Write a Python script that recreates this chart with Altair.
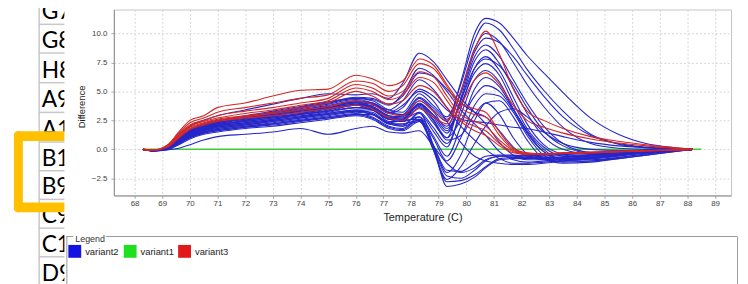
import altair as alt
import pandas as pd

# ---------------- data ----------------
temps = [68.3, 68.7, 69.2, 69.6, 70.0, 70.5, 71.0, 72.0, 73.0, 74.0, 75.0, 76.0,
         76.6, 77.2, 77.7, 78.3, 78.8, 79.3, 79.8, 80.3, 80.7, 81.2, 81.7, 82.2,
         82.8, 83.5, 84.5, 85.5, 86.5, 87.5, 88.2]

# variant2 (blue)
b01 = [0, -0.1, 0.3, 1.2, 2.0, 2.5, 2.9, 3.4, 3.9, 4.4, 4.8, 4.7,
       4.8, 4.4, 5.7, 8.3, 7.6, 6.0, 4.4, 3.2, 2.2, 0.6, -0.5, -0.9,
       -0.9, -0.8, -0.6, -0.4, -0.25, -0.1, 0]
b02 = [0, -0.1, 0.2, 0.9, 1.6, 2.0, 2.3, 2.7, 3.1, 3.4, 3.8, 4.2,
       4.0, 3.2, 3.0, 4.4, 3.4, 2.4, 5.8, 10.0, 11.3, 10.9, 9.6, 8.1,
       6.6, 4.9, 2.7, 1.3, 0.5, 0.15, 0]
b03 = [0, -0.1, 0.25, 1.0, 1.7, 2.1, 2.4, 2.8, 3.2, 3.6, 4.0, 4.4,
       4.2, 3.4, 3.2, 4.8, 3.8, 2.8, 5.6, 9.4, 10.9, 10.3, 8.7, 6.9,
       5.1, 3.3, 1.3, 0.45, 0.15, 0.05, 0]
b04 = [0, -0.1, 0.15, 0.8, 1.4, 1.8, 2.1, 2.5, 2.8, 3.1, 3.5, 3.9,
       3.7, 2.9, 2.7, 4.0, 3.0, 2.0, 5.0, 8.7, 10.0, 9.3, 7.5, 5.6,
       3.7, 1.9, 0.5, 0.1, 0.0, 0.0, 0]
b05 = [0, -0.12, 0.1, 0.7, 1.3, 1.7, 2.0, 2.3, 2.6, 2.9, 3.2, 3.6,
       3.4, 2.6, 2.4, 3.6, 2.3, 1.0, 4.4, 8.0, 9.0, 8.0, 6.0, 4.0,
       2.0, 0.5, -0.25, -0.25, -0.1, 0, 0]
b06 = [0, -0.1, 0.2, 0.9, 1.5, 1.9, 2.2, 2.6, 2.9, 3.3, 3.6, 4.0,
       3.6, 2.8, 2.6, 3.9, 2.8, 1.4, 4.2, 7.6, 8.6, 7.4, 5.3, 3.1,
       1.1, 0.0, -0.4, -0.3, -0.2, -0.1, 0]
b07 = [0, -0.12, 0.05, 0.6, 1.2, 1.6, 1.9, 2.2, 2.5, 2.8, 3.1, 3.4,
       3.1, 2.3, 2.1, 3.1, 1.6, 0.2, 3.5, 7.0, 8.0, 6.8, 4.5, 2.2,
       0.4, -0.4, -0.6, -0.45, -0.25, -0.1, 0]
b08 = [0, -0.1, 0.2, 0.8, 1.5, 1.9, 2.3, 2.7, 3.0, 3.4, 3.7, 4.1,
       3.7, 2.9, 2.8, 4.2, 3.3, 1.8, 3.9, 6.6, 7.4, 6.4, 4.0, 1.8,
       0.2, -0.6, -0.7, -0.5, -0.3, -0.1, 0]
b09 = [0, -0.12, 0.1, 0.6, 1.2, 1.6, 1.8, 2.1, 2.4, 2.7, 3.0, 3.3,
       3.0, 2.2, 2.0, 3.2, 1.9, 0.5, 3.0, 6.0, 6.8, 5.8, 3.5, 1.4,
       -0.2, -0.8, -0.8, -0.6, -0.3, -0.1, 0]
b10 = [0, -0.12, 0.05, 0.5, 1.1, 1.5, 1.7, 2.0, 2.2, 2.5, 2.8, 3.1,
       2.8, 2.0, 1.8, 2.8, 1.2, -0.6, 2.0, 5.2, 6.2, 5.4, 3.5, 1.6,
       0.0, -0.9, -0.9, -0.7, -0.4, -0.15, 0]
b11 = [0, -0.1, 0.15, 0.8, 1.4, 1.8, 2.1, 2.4, 2.7, 3.0, 3.4, 3.8,
       3.4, 2.6, 2.5, 3.8, 2.6, 1.0, 2.5, 4.6, 5.5, 5.0, 3.4, 1.5,
       -0.2, -1.0, -1.0, -0.7, -0.4, -0.15, 0]
b12 = [0, -0.12, 0.0, 0.5, 1.0, 1.4, 1.6, 1.9, 2.1, 2.4, 2.7, 3.0,
       2.7, 1.9, 1.7, 2.6, 1.0, -1.0, 1.0, 3.8, 4.8, 4.6, 3.2, 1.2,
       -0.5, -1.1, -1.0, -0.8, -0.5, -0.2, 0]
b13 = [0, -0.15, 0.0, 0.4, 0.9, 1.3, 1.5, 1.8, 2.0, 2.3, 2.6, 2.9,
       2.6, 1.8, 1.6, 2.4, 0.4, -2.0, -0.5, 2.5, 4.0, 4.2, 2.8, 0.8,
       -0.8, -1.2, -1.1, -0.8, -0.5, -0.2, 0]
b14 = [0, -0.1, 0.25, 1.0, 1.7, 2.2, 2.5, 2.9, 3.3, 3.7, 4.1, 4.4,
       4.3, 3.8, 4.8, 7.0, 6.4, 5.0, 3.4, 2.2, 1.2, -0.2, -0.9, -1.1,
       -1.0, -0.9, -0.7, -0.5, -0.3, -0.1, 0]
b15 = [0, -0.1, 0.2, 0.9, 1.5, 2.0, 2.3, 2.7, 3.0, 3.4, 3.7, 4.1,
       4.0, 3.4, 4.2, 6.0, 5.2, 3.6, 2.0, 0.8, 0.0, -0.8, -1.2, -1.2,
       -1.1, -1.0, -0.8, -0.5, -0.3, -0.1, 0]
b16 = [0, -0.12, 0.1, 0.7, 1.3, 1.7, 2.0, 2.4, 2.7, 3.0, 3.3, 3.8,
       3.8, 3.2, 3.8, 5.0, 4.2, 2.4, 0.6, -0.6, -1.0, -1.2, -1.3, -1.3,
       -1.2, -1.0, -0.8, -0.55, -0.3, -0.1, 0]
b17 = [0, -0.1, 0.15, 0.8, 1.4, 1.8, 2.1, 2.5, 2.9, 3.2, 3.5, 3.8,
       3.6, 2.6, 2.6, 3.2, 0.4, -3.2, -3.0, -2.4, -1.6, -0.9, -0.8, -0.8,
       -0.75, -0.7, -0.55, -0.4, -0.25, -0.1, 0]
b18 = [0, -0.12, 0.1, 0.6, 1.2, 1.6, 1.9, 2.2, 2.5, 2.8, 3.1, 3.4,
       3.4, 2.4, 2.4, 2.8, 0.0, -2.8, -2.7, -2.2, -1.5, -0.8, -0.7, -0.7,
       -0.7, -0.65, -0.5, -0.35, -0.2, -0.1, 0]
b19 = [0, -0.12, 0.05, 0.6, 1.1, 1.5, 1.8, 2.1, 2.4, 2.7, 3.0, 3.3,
       3.2, 2.3, 2.5, 2.6, 0.2, -2.3, -2.5, -1.8, -1.0, -0.6, -0.6, -0.65,
       -0.6, -0.55, -0.45, -0.3, -0.2, -0.1, 0]
b20 = [0, -0.12, 0.05, 0.5, 1.0, 1.4, 1.6, 1.9, 2.2, 2.5, 2.7, 3.0,
       3.0, 2.2, 2.2, 2.5, 0.4, -1.8, -1.9, -1.2, -0.6, -0.5, -0.5, -0.55,
       -0.5, -0.45, -0.35, -0.25, -0.15, -0.05, 0]
b21 = [0, -0.15, -0.05, 0.1, 0.4, 0.8, 1.1, 1.3, 1.5, 1.8, 1.3, 1.8,
       2.0, 1.5, 1.4, 1.6, 0.3, -1.2, -2.0, -1.6, -0.9, -0.6, -0.55, -0.5,
       -0.45, -0.4, -0.3, -0.2, -0.1, -0.05, 0]
b22 = [0, -0.12, 0.05, 0.5, 1.1, 1.5, 1.7, 2.0, 2.3, 2.6, 2.9, 3.2,
       3.0, 2.2, 2.0, 2.4, 0.0, -2.6, -1.5, 0.5, 2.0, 3.2, 3.5, 2.8,
       1.5, 0.5, 0.0, -0.1, -0.1, 0, 0]
b23 = [0, -0.1, 0.2, 0.8, 1.5, 1.9, 2.2, 2.6, 2.9, 3.3, 3.6, 4.0,
       3.9, 3.1, 3.6, 5.2, 4.6, 3.4, 2.6, 2.4, 2.3, 2.1, 1.9, 1.8,
       1.5, 1.1, 0.6, 0.3, 0.15, 0.05, 0]
b24 = [0, -0.1, 0.1, 0.7, 1.3, 1.7, 2.0, 2.3, 2.6, 3.0, 3.3, 3.6,
       3.5, 2.7, 2.9, 3.7, 2.5, 0.8, 1.2, 3.0, 4.0, 3.0, 1.0, -0.4,
       -0.9, -0.9, -0.7, -0.5, -0.3, -0.1, 0]
b25 = [0, -0.1, 0.2, 0.9, 1.6, 2.0, 2.3, 2.7, 3.1, 3.5, 3.9, 4.3,
       4.0, 3.2, 3.0, 4.5, 3.6, 2.6, 4.8, 8.4, 9.6, 9.2, 8.0, 6.4,
       4.6, 2.8, 1.2, 0.5, 0.2, 0.05, 0]
b26 = [0, -0.1, 0.15, 0.8, 1.4, 1.8, 2.1, 2.5, 2.8, 3.1, 3.5, 3.8,
       3.5, 2.7, 2.6, 3.9, 3.0, 1.6, 4.2, 7.0, 7.8, 7.2, 5.6, 3.6,
       1.6, 0.3, -0.3, -0.3, -0.2, -0.1, 0]
b27 = [0, -0.1, 0.2, 0.9, 1.6, 2.1, 2.4, 2.8, 3.2, 3.6, 4.0, 4.5,
       4.4, 3.9, 4.6, 6.6, 6.3, 5.2, 4.0, 3.2, 2.8, 1.6, 0.2, -0.6,
       -0.8, -0.7, -0.5, -0.35, -0.2, -0.1, 0]

# variant3 (red)
r01 = [0, -0.05, 0.4, 1.5, 2.5, 2.9, 3.6, 4.0, 4.6, 5.1, 5.2, 6.4,
       6.1, 5.5, 5.9, 7.8, 7.3, 5.6, 4.0, 3.5, 3.2, 1.5, 0.1, -0.3,
       -0.4, -0.35, -0.3, -0.2, -0.15, -0.05, 0]
r02 = [0, -0.05, 0.35, 1.4, 2.3, 2.7, 3.2, 3.6, 4.0, 4.4, 4.7, 5.9,
       5.7, 5.0, 5.5, 7.4, 7.0, 5.4, 3.6, 3.0, 2.8, 1.2, 0.0, -0.35,
       -0.4, -0.35, -0.3, -0.2, -0.1, -0.05, 0]
r03 = [0, -0.05, 0.3, 1.3, 2.1, 2.5, 2.9, 3.3, 3.6, 4.0, 4.4, 5.6,
       5.3, 4.6, 5.0, 6.7, 6.3, 4.6, 3.0, 2.4, 2.0, 0.8, -0.1, -0.4,
       -0.4, -0.3, -0.25, -0.2, -0.1, -0.05, 0]
r04 = [0, -0.05, 0.3, 1.2, 2.0, 2.4, 2.7, 3.1, 3.4, 3.8, 4.2, 5.3,
       5.0, 4.3, 4.7, 6.2, 5.8, 4.2, 2.6, 2.0, 1.6, 0.5, -0.2, -0.4,
       -0.4, -0.3, -0.25, -0.15, -0.1, -0.05, 0]
r05 = [0, -0.05, 0.25, 1.1, 1.9, 2.3, 2.6, 2.9, 3.2, 3.6, 4.0, 5.0,
       4.6, 3.9, 4.2, 5.5, 5.0, 3.6, 2.4, 1.6, 1.2, 0.3, -0.3, -0.45,
       -0.4, -0.35, -0.3, -0.2, -0.1, -0.05, 0]
r06 = [0, -0.05, 0.25, 1.0, 1.8, 2.2, 2.5, 2.8, 3.1, 3.4, 3.7, 4.2,
       3.9, 3.1, 2.9, 4.2, 3.3, 2.5, 5.0, 8.6, 10.2, 8.2, 5.2, 3.3,
       2.5, 1.8, 1.1, 0.7, 0.4, 0.15, 0]
r07 = [0, -0.05, 0.2, 1.0, 1.7, 2.1, 2.4, 2.7, 2.9, 3.2, 3.5, 3.8,
       3.5, 2.7, 2.5, 3.5, 2.8, 2.2, 3.8, 6.0, 6.6, 5.6, 3.8, 2.5,
       1.9, 1.4, 0.9, 0.55, 0.3, 0.1, 0]

# variant1 (green)
green_temps = [68.3, 88.5]
green_vals = [0.0, 0.0]

blue_curves = [b01, b02, b03, b04, b05, b06, b07, b08, b09, b10, b11, b12, b13, b14,
               b15, b16, b17, b18, b19, b20, b21, b22, b23, b24, b25, b26, b27]
red_curves = [r01, r02, r03, r04, r05, r06, r07]

x_ticks = list(range(68, 90))
y_ticks = [-2.5, 0.0, 2.5, 5.0, 7.5, 10.0]
legend_names = ["variant2", "variant1", "variant3"]
cell_labels = ["G7", "G8", "H8", "A9", "A1", "B1", "B9", "C9", "C1", "D9"]

# ---------------- styling ----------------
BLUE = "#2626c8"
RED = "#d42626"
GREEN = "#3fcc3f"
FONT = "Liberation Sans"

rows = []
for i, c in enumerate(blue_curves):
    for t, v in zip(temps, c):
        rows.append({"temp": t, "diff": v, "curve": f"b{i}", "variant": "variant2"})
df_blue = pd.DataFrame(rows)
rows = []
for i, c in enumerate(red_curves):
    for t, v in zip(temps, c):
        rows.append({"temp": t, "diff": v, "curve": f"r{i}", "variant": "variant3"})
df_red = pd.DataFrame(rows)
df_green = pd.DataFrame({"temp": green_temps, "diff": green_vals,
                         "curve": ["g0", "g0"], "variant": ["variant1", "variant1"]})

color_scale = alt.Scale(domain=legend_names, range=[BLUE, GREEN, RED])

x_enc = alt.X("temp:Q",
              scale=alt.Scale(domain=[67.25, 89.58], nice=False, zero=False),
              axis=alt.Axis(values=x_ticks, format="d", labelFontSize=8, labelColor="#444",
                            labelFont=FONT, tickSize=3, tickColor="#aaa", domainColor="#8a8a8a",
                            gridColor="#d6d6d6", gridDash=[2, 2], labelPadding=1,
                            title="Temperature (C)", titleFontSize=11, titleFontWeight="normal",
                            titleColor="#222", titleFont=FONT, titleY=22, titleBaseline="middle"))
y_enc = alt.Y("diff:Q",
              scale=alt.Scale(domain=[-3.98, 12.07], nice=False, zero=False),
              axis=alt.Axis(values=y_ticks, format=".1f", labelFontSize=8, labelColor="#444",
                            labelFont=FONT, tickSize=3, tickColor="#aaa", domainColor="#8a8a8a",
                            gridColor="#d6d6d6", gridDash=[2, 2], labelPadding=4,
                            title="Difference", titleFontSize=9.5, titleFontWeight="normal",
                            titleColor="#222", titleFont=FONT, titleX=-33, titleY=98,
                            titleAngle=270, titleAlign="center", titleBaseline="middle"))

def series(df, width):
    return alt.Chart(df).mark_line(interpolate="monotone", strokeWidth=width).encode(
        x=x_enc, y=y_enc,
        color=alt.Color("variant:N", scale=color_scale, legend=None),
        detail="curve:N")

dummy = pd.DataFrame({"k": [0]})

def hx(px):
    return px - 115

def hy(py):
    return py - 8

def text(s, x, y, size, color="#000", font=FONT, align="left", baseline="alphabetic"):
    return alt.Chart(dummy).mark_text(text=s, align=align, baseline=baseline, fontSize=size,
                                      font=font, color=color).encode(
        x=alt.value(hx(x)), y=alt.value(hy(y)))

def hrule(x1, x2, y, color, w=1):
    return alt.Chart(dummy).mark_rule(color=color, strokeWidth=w).encode(
        x=alt.value(hx(x1)), x2=alt.value(hx(x2)), y=alt.value(hy(y)))

def vrule(x, y1, y2, color, w=1):
    return alt.Chart(dummy).mark_rule(color=color, strokeWidth=w).encode(
        x=alt.value(hx(x)), y=alt.value(hy(y1)), y2=alt.value(hy(y2)))

def box(x1, y1, x2, y2, color, r=0):
    return alt.Chart(dummy).mark_rect(color=color, cornerRadius=r).encode(
        x=alt.value(hx(x1)), x2=alt.value(hx(x2)), y=alt.value(hy(y1)), y2=alt.value(hy(y2)))

layers = []
# spreadsheet fragment on the left
row_lines = [23, 52, 82, 112, 142, 171, 200, 229, 258]
baselines = [18, 47, 77, 107, 137, 166, 195, 224, 253, 282]
for lab, b in zip(cell_labels, baselines):
    layers.append(text(lab, 42, b, 23, font="Lato"))
layers.append(vrule(39.5, 0, 290, "#c8c8c8", 1.5))
for yl in row_lines:
    layers.append(hrule(39, 66, yl, "#c8c8c8", 1.5))
# orange bracket
ORANGE = "#ffc000"
layers.append(box(14, 131, 23, 213, ORANGE, 4))
layers.append(box(14, 131, 70, 141, ORANGE, 4))
layers.append(box(14, 203, 70, 213, ORANGE, 4))
# panel edge cover
layers.append(box(65, 0, 77, 290, "#ffffff"))
# legend frame
layers.append(hrule(67, 74, 237.5, "#9a9a9a"))
layers.append(hrule(107, 745, 237.5, "#9a9a9a"))
layers.append(vrule(67.5, 237.5, 290, "#9a9a9a"))
layers.append(vrule(745.5, 237.5, 290, "#9a9a9a"))
layers.append(text("Legend", 76, 240.5, 9, color="#333", baseline="middle"))
sw_x = [69, 125, 180]
sw_col = ["#1414e0", "#1ee01e", "#e01a1a"]
lab_x = [86, 142, 197]
for sx, sc, lx, nm in zip(sw_x, sw_col, lab_x, legend_names):
    layers.append(box(sx, 246, sx + 13, 259, sc))
    layers.append(text(nm, lx, 253, 9.5, color="#222", baseline="middle"))

# data curves
layers.append(series(df_green, 1.5))
layers.append(series(df_blue, 1.1))
layers.append(series(df_red, 1.1))

chart = alt.layer(*layers).properties(
    width=624, height=188,
    autosize=alt.AutoSizeParams(type="none"),
    padding={"left": 107, "top": 0, "right": 9, "bottom": 88},
    background="white",
).configure_view(stroke="#c4c4c4", strokeWidth=1)

chart.save("out.html", embed_options={"renderer": "svg", "actions": False})
